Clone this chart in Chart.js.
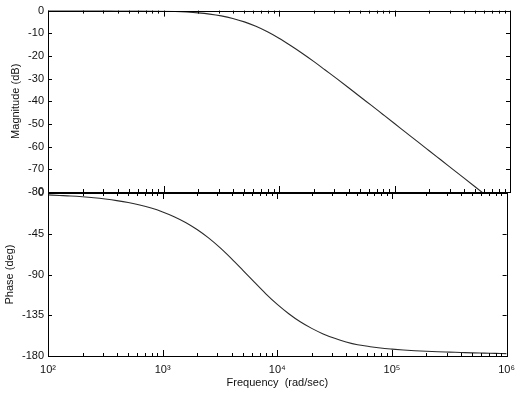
<!DOCTYPE html>
<html>
<head>
<meta charset="utf-8">
<script src="https://cdn.jsdelivr.net/npm/chart.js@4"></script>
<style>
  html, body { margin: 0; padding: 0; background: #fff; }
  #wrap { position: relative; width: 522px; height: 398px; }
  canvas { position: absolute; left: 0; top: 0; }
</style>
</head>
<body>
<div id="wrap">
  <canvas id="mag" width="522" height="398"></canvas>
  <canvas id="phase" width="522" height="398"></canvas>
</div>
<script>
// ---- data ----
const frequencies = [100, 126, 158, 200, 251, 316, 398, 501, 631, 794,
  1000, 1259, 1585, 1995, 2512, 3162, 3981, 5012, 6310, 7943,
  10000, 12589, 15849, 19953, 25119, 31623, 39811, 50119, 63096, 79433,
  100000, 125893, 158489, 199526, 251189, 316228, 398107, 501187, 630957, 794328,
  1000000];
const magnitudeDb = [0, 0, 0, -0.01, -0.02, -0.03, -0.04, -0.07, -0.11, -0.17,
  -0.26, -0.41, -0.65, -1.0, -1.54, -2.33, -3.45, -4.97, -6.95, -9.37,
  -12.2, -15.4, -18.8, -22.4, -26.2, -30.0, -33.9, -37.9, -41.8, -45.8,
  -49.8, -53.8, -57.8, -61.8, -65.8, -69.8, -73.8, -77.8, -81.8, -85.8,
  -89.8];
const phaseDeg = [-2.1, -2.7, -3.3, -4.2, -5.3, -6.7, -8.4, -10.5, -13.2, -16.6,
  -20.9, -26.1, -32.5, -40.3, -49.6, -60.4, -72.5, -85.4, -98.5, -111.3,
  -123.0, -133.3, -142.2, -149.5, -155.6, -160.5, -164.5, -167.6, -169.5, -171.2,
  -172.4, -173.4, -174.2, -174.8, -175.3, -175.7, -176.1, -176.5, -176.8, -177.1,
  -177.4];

const xMajorTicks = [100, 1000, 10000, 100000, 1000000];
const xTickLabels = ['10\u00B2', '10\u00B3', '10\u2074', '10\u2075', '10\u2076'];
const xMinorMultipliers = [2, 3, 4, 5, 6, 7, 8, 9];
const magTicks = [0, -10, -20, -30, -40, -50, -60, -70, -80];
const phaseTicks = [0, -45, -90, -135, -180];

const FONT = { family: '"Liberation Sans", Arial, Helvetica, sans-serif', size: 11 };
const INK = '#111';

const xMinorTicks = [];
xMajorTicks.slice(0, -1).forEach(d => xMinorMultipliers.forEach(m => xMinorTicks.push(d * m)));

// frame + inward ticks, placed through the chart's own scales
const frameTicks = {
  id: 'frameTicks',
  afterDraw(chart, args, opts) {
    const { ctx, chartArea: a, scales } = chart;
    const xs = scales.x, ys = scales.y;
    ctx.save();
    ctx.strokeStyle = '#000';
    ctx.lineWidth = 1;
    ctx.strokeRect(Math.round(a.left) + 0.5, Math.round(a.top) + 0.5,
      Math.round(a.right - a.left), Math.round(a.bottom - a.top));
    ctx.beginPath();
    const xt = (v, len) => {
      const px = Math.round(xs.getPixelForValue(v)) + 0.5;
      ctx.moveTo(px, a.top); ctx.lineTo(px, a.top + len);
      ctx.moveTo(px, a.bottom); ctx.lineTo(px, a.bottom - len);
    };
    xMinorTicks.forEach(v => xt(v, 3));
    xMajorTicks.forEach(v => xt(v, 6));
    opts.yTicks.forEach(v => {
      const py = Math.round(ys.getPixelForValue(v)) + 0.5;
      ctx.moveTo(a.left, py); ctx.lineTo(a.left + 4, py);
      ctx.moveTo(a.right, py); ctx.lineTo(a.right - 4, py);
    });
    ctx.stroke();
    ctx.restore();
  }
};

function yScale(ticks, min, max, title, titlePadTop) {
  return {
    type: 'linear', position: 'left', min, max,
    grid: { display: false, drawTicks: false },
    border: { display: false },
    afterBuildTicks: s => { s.ticks = ticks.map(v => ({ value: v })); },
    afterFit: s => { s.width = 48; },
    ticks: { color: INK, font: FONT, padding: 4, callback: v => String(v) },
    title: { display: true, text: title, color: INK, font: FONT, padding: { top: titlePadTop, bottom: 0 } }
  };
}

function lineDataset(values) {
  return {
    data: frequencies.map((f, i) => ({ x: f, y: values[i] })),
    borderColor: '#2a2a2a', borderWidth: 1.1, pointRadius: 0,
    cubicInterpolationMode: 'monotone', fill: false
  };
}

const common = {
  responsive: false, animation: false, devicePixelRatio: 1,
  plugins: { legend: { display: false }, tooltip: { enabled: false } }
};

new Chart(document.getElementById('mag'), {
  type: 'line',
  data: { datasets: [lineDataset(magnitudeDb)] },
  options: Object.assign({}, common, {
    layout: { padding: { left: 0, top: 8, right: 12, bottom: 206 } },
    plugins: Object.assign({}, common.plugins, { frameTicks: { yTicks: magTicks } }),
    scales: {
      x: { type: 'logarithmic', min: 100, max: 1000000, display: false },
      y: yScale(magTicks, -80, 0, 'Magnitude (dB)', 9)
    }
  }),
  plugins: [frameTicks]
});

new Chart(document.getElementById('phase'), {
  type: 'line',
  data: { datasets: [lineDataset(phaseDeg)] },
  options: Object.assign({}, common, {
    layout: { padding: { left: 0, top: 193, right: 12, bottom: 0 } },
    plugins: Object.assign({}, common.plugins, { frameTicks: { yTicks: phaseTicks } }),
    scales: {
      x: {
        type: 'logarithmic', position: 'bottom', min: 100, max: 1000000,
        grid: { display: false, drawTicks: false },
        border: { display: false },
        afterBuildTicks: s => { s.ticks = xMajorTicks.map(v => ({ value: v })); },
        afterFit: s => { s.height = 42; },
        ticks: {
          color: INK, font: FONT, padding: 7, maxRotation: 0, autoSkip: false,
          callback: v => { const i = xMajorTicks.indexOf(v); return i >= 0 ? xTickLabels[i] : ''; }
        },
        title: { display: true, text: 'Frequency  (rad/sec)', color: INK, font: FONT, padding: { top: 0, bottom: 8 } }
      },
      y: yScale(phaseTicks, -180, 0, 'Phase (deg)', 3)
    }
  }),
  plugins: [frameTicks]
});
</script>
</body>
</html>
